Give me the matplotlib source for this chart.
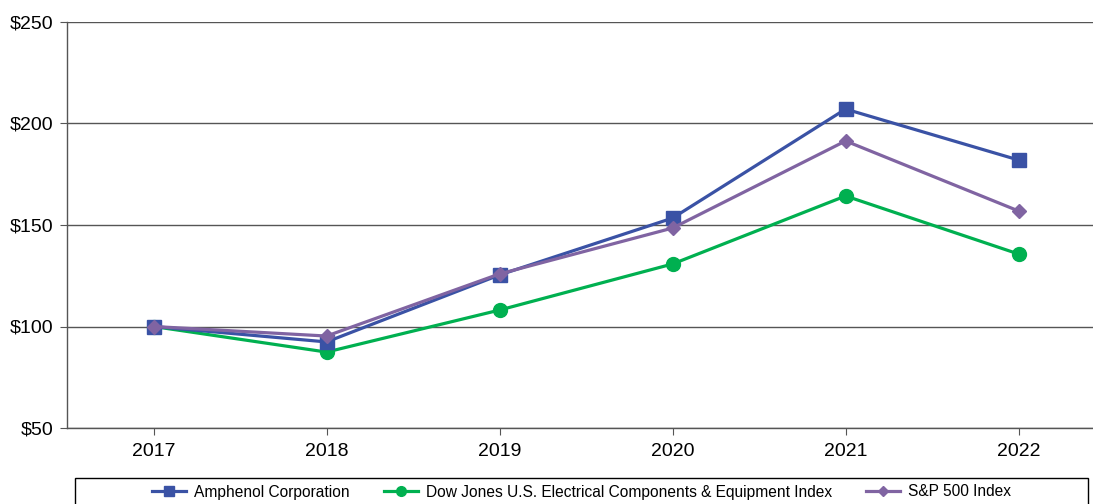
import matplotlib
matplotlib.use("Agg")
import matplotlib.pyplot as plt
from matplotlib.patches import Rectangle

plt.rcParams['font.family'] = ['Liberation Sans', 'DejaVu Sans']

years = [2017, 2018, 2019, 2020, 2021, 2022]
amphenol = [100, 92.4, 125.4, 153.4, 207.1, 182.0]
dowjones = [100, 87.4, 108.1, 130.8, 164.3, 135.7]
sp500 = [100, 95.3, 125.9, 148.5, 191.4, 156.9]
yticks = [50, 100, 150, 200, 250]
ytick_labels = ["$50", "$100", "$150", "$200", "$250"]
names = ["Amphenol Corporation",
         "Dow Jones U.S. Electrical Components & Equipment Index",
         "S&P 500 Index"]

c_blue = "#3a52a5"
c_green = "#00b050"
c_purple = "#8064a2"

fig = plt.figure(figsize=(10.93, 5.04), dpi=100)
ax = fig.add_axes([67/1093, 76/504, 1 - 67/1093, 406/504])

l2, = ax.plot(years, dowjones, color=c_green, lw=2.3, marker='o', ms=10, zorder=3, label=names[1])
l1, = ax.plot(years, amphenol, color=c_blue, lw=2.3, marker='s', ms=10, zorder=4, label=names[0])
l3, = ax.plot(years, sp500, color=c_purple, lw=2.3, marker='D', ms=7.5, zorder=5, label=names[2])

ax.set_xlim(2016.5, 2022.43)
ax.set_ylim(50, 250)
ax.set_yticks(yticks)
ax.set_yticklabels(ytick_labels)
ax.set_xticks(years)
ax.set_xticklabels([str(y) for y in years])
for y in yticks:
    ax.axhline(y, color="#555555", lw=1.0, zorder=1)
for s in ['top', 'right']:
    ax.spines[s].set_visible(False)
for s in ['left', 'bottom']:
    ax.spines[s].set_color("#555555")
    ax.spines[s].set_linewidth(1.0)
ax.tick_params(axis='y', length=5, color="#555555", labelsize=14, pad=5)
ax.tick_params(axis='x', length=5, color="#555555", labelsize=14, pad=6)

fig.patches.append(Rectangle((75/1093, -0.05), (1088-75)/1093, 0.05 + 26/504,
                             transform=fig.transFigure, fill=False,
                             edgecolor="black", lw=1.0))
leg = fig.legend(handles=[l1, l2, l3], loc='center', bbox_to_anchor=(581.5/1093, 12/504),
                 ncol=3, frameon=False, fontsize=11.2, markerscale=0.7,
                 handlelength=2.2, handletextpad=0.5, columnspacing=2.2,
                 borderaxespad=0, borderpad=0)

fig.savefig("out.png", dpi=100)
